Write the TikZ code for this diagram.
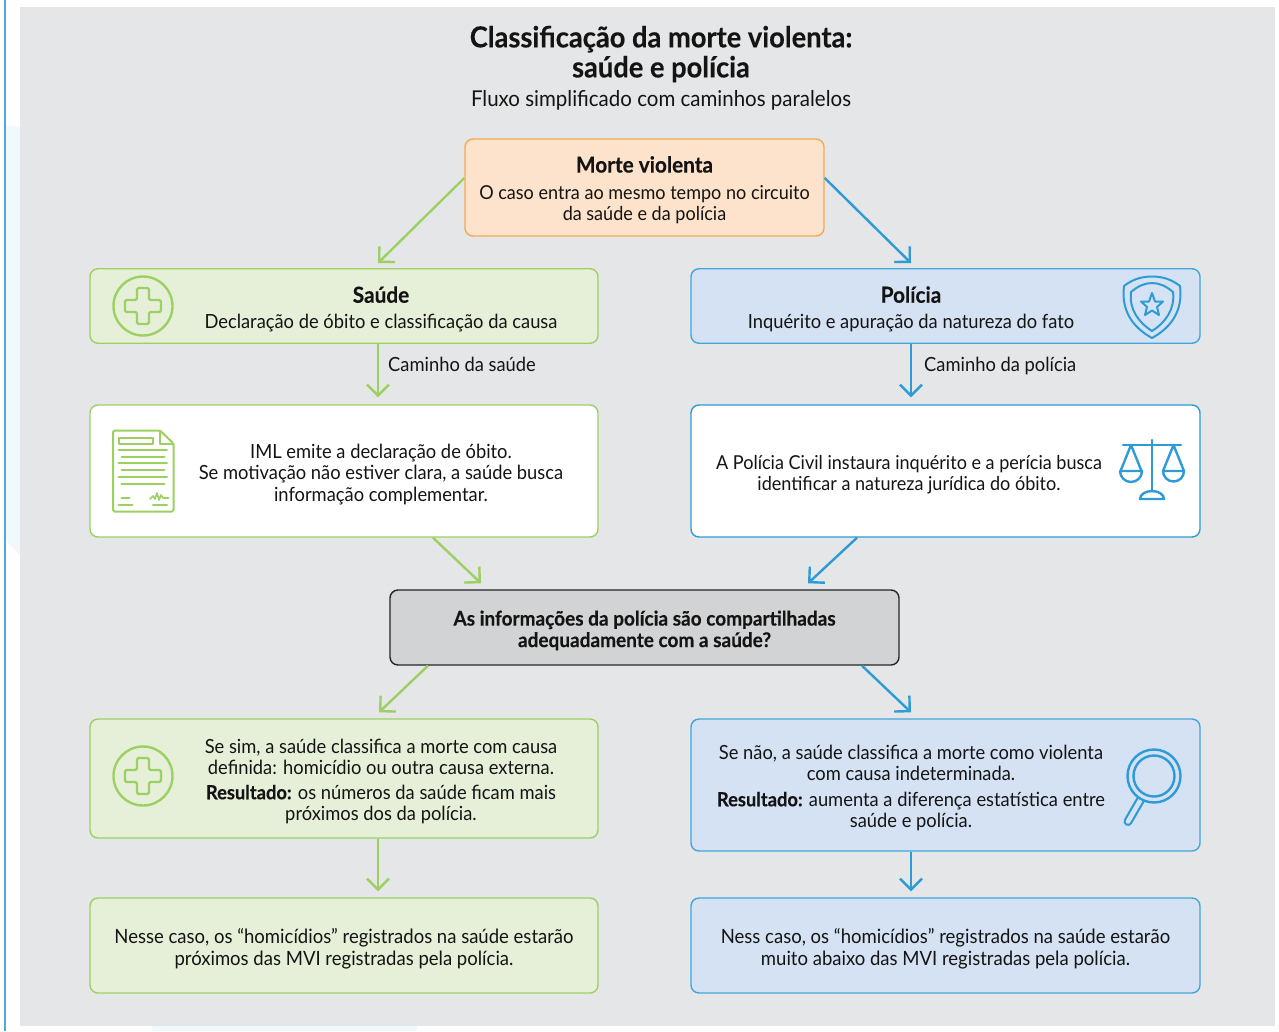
\documentclass[tikz,border=0pt]{standalone}
\usepackage{fontspec}
\setmainfont{Lato}[FakeStretch=0.94, BoldFeatures={FakeBold=0.25}]
\usepackage{xcolor}
\usetikzlibrary{arrows.meta, calc}
\definecolor{panelgray}{HTML}{E5E6E8}
\definecolor{paletint}{HTML}{F2F9FC}
\definecolor{saudeline}{HTML}{9DD063}
\definecolor{saudefill}{HTML}{E6F0D9}
\definecolor{policialine}{HTML}{2E9BD6}
\definecolor{policiafill}{HTML}{D5E2F3}
\definecolor{morteline}{HTML}{F5A952}
\definecolor{mortefill}{HTML}{FDE3CB}
\definecolor{questionfill}{HTML}{D2D3D5}
\newcommand{\bodyfont}{\fontsize{19.5}{21.5}\selectfont}
\newcommand{\smallbody}{\fontsize{19.2}{21.5}\selectfont}
\newcommand{\widebody}{\fontsize{19.7}{21.5}\selectfont}
\newcommand{\headfont}{\bfseries\fontsize{22.1}{24}\selectfont}
\tikzset{
	flowbox/.style={draw, rounded corners=8, line width=1.4, inner sep=0, align=center},
	saudebox/.style={flowbox, draw=saudeline, fill=saudefill},
	policiabox/.style={flowbox, draw=policialine!90, fill=policiafill},
	txt/.style={inner sep=0, align=center, text=black!92, font=\bodyfont},
	flowarrow/.style={line width=2.4, -{Straight Barb[length=11, width=22, line width=2.4]}},
	saudearrow/.style={flowarrow, saudeline},
	policiaarrow/.style={flowarrow, policialine},
	iconline/.style={line width=2.4, line cap=round, line join=round}
}
\providecommand{\PlusIcon}[2]{
	\begin{scope}[shift={(#1,#2)}, iconline, saudeline]
		\draw (0,0) circle (29.5);
		\draw[rounded corners=1.5] (-6,-18) -- (6,-18) -- (6,-6) -- (18,-6) -- (18,6) -- (6,6) -- (6,18) -- (-6,18) -- (-6,6) -- (-18,6) -- (-18,-6) -- (-6,-6) -- cycle;
	\end{scope}
}
\begin{document}
\begin{tikzpicture}[x=1pt, y=-1pt]

	\fill[white] (0,0) rectangle (1279,1031);
	\fill[paletint] (6,125) -- (20,127) -- (20,556) -- (6,540) -- cycle;
	\fill[paletint] (152,1026) rectangle (417,1031);
	\fill[panelgray] (20,7) rectangle (1275,1026);
	\fill[policialine!85] (4,0) rectangle (6,1031);

	% title
	\node[txt, font=\bfseries\fontsize{29}{30}\selectfont] (title) at (661,54) {Classificação da morte violenta:\\saúde e polícia};
	\node[txt, font=\fontsize{21.8}{24}\selectfont] (subtitle) at (661,100) {Fluxo simplificado com caminhos paralelos};

	% boxes
	\node[flowbox, draw=morteline, fill=mortefill, minimum width=359, minimum height=97] (morte) at (644.5,187.5) {};
	\node[saudebox, minimum width=508, minimum height=74.5] (saude) at (344,306) {};
	\node[policiabox, minimum width=509, minimum height=74.5] (policia) at (945.5,306) {};
	\node[flowbox, draw=saudeline, fill=white, minimum width=508, minimum height=132] (iml) at (344,471) {};
	\node[flowbox, draw=policialine, fill=white, minimum width=509, minimum height=132] (civil) at (945.5,471) {};
	\node[flowbox, draw=black!85, fill=questionfill, minimum width=509, minimum height=75] (pergunta) at (644.5,627.5) {};
	\node[saudebox, minimum width=508, minimum height=119] (sim) at (344,778.5) {};
	\node[policiabox, minimum width=509, minimum height=132] (nao) at (945.5,785) {};
	\node[saudebox, minimum width=508, minimum height=95] (nesse) at (344,945.5) {};
	\node[policiabox, minimum width=509, minimum height=95] (ness) at (945.5,945.5) {};

	% texts
	\node[txt] (morteText) at (644.5,190) {{\headfont Morte violenta}\\[5]{\smallbody O caso entra ao mesmo tempo no circuito}\\{\smallbody da saúde e da polícia}};
	\node[txt] (saudeText) at (381,309) {{\headfont Saúde}\\[4]Declaração de óbito e classificação da causa};
	\node[txt] (policiaText) at (911,309) {{\headfont Polícia}\\[4]Inquérito e apuração da natureza do fato};
	\node[txt] (imlText) at (381,474.5) {IML emite a declaração de óbito.\\Se motivação não estiver clara, a saúde busca\\informação complementar.};
	\node[txt, font=\smallbody] (civilText) at (909,474.5) {A Polícia Civil instaura inquérito e a perícia busca\\identificar a natureza jurídica do óbito.};
	\node[txt, font=\bfseries\fontsize{20.2}{21.5}\selectfont] (perguntaText) at (644.5,630.5) {As informações da polícia são compartilhadas\\adequadamente com a saúde?};
	\node[txt] (simText) at (381,781.5) {Se sim, a saúde classifica a morte com causa\\definida: homicídio ou outra causa externa.\\[3]\textbf{Resultado:} os números da saúde ficam mais\\próximos dos da polícia.};
	\node[txt] (naoText) at (911,788) {Se não, a saúde classifica a morte como violenta\\com causa indeterminada.\\[4]\textbf{Resultado:} aumenta a diferença estatística entre\\saúde e polícia.};
	\node[txt, font=\widebody] (nesseText) at (344,949) {Nesse caso, os “homicídios” registrados na saúde estarão\\próximos das MVI registradas pela polícia.};
	\node[txt, font=\widebody] (nessText) at (945.5,949) {Ness caso, os “homicídios” registrados na saúde estarão\\muito abaixo das MVI registradas pela polícia.};
	\node[txt, anchor=base west] (caminhoSaude) at (388,371.5) {Caminho da saúde};
	\node[txt, anchor=base west] (caminhoPolicia) at (924,371.5) {Caminho da polícia};

	% arrows
	\draw[saudearrow] ([shift={(0,-9.5)}]morte.west) -- ([shift={(34,-5)}]saude.north);
	\draw[policiaarrow] ([shift={(0,-9.5)}]morte.east) -- ([shift={(-34.5,-5)}]policia.north);
	\draw[saudearrow] ([xshift=34pt]saude.south) -- ([shift={(34,-7)}]iml.north);
	\draw[policiaarrow] ([xshift=-34.5pt]policia.south) -- ([shift={(-34.5,-7)}]civil.north);
	\draw[saudearrow] ([xshift=89pt]iml.south) -- ([shift={(-163.5,-6)}]pergunta.north);
	\draw[policiaarrow] ([xshift=-88.5pt]civil.south) -- ([shift={(163.5,-6)}]pergunta.north);
	\draw[saudearrow] ([xshift=-216.5pt]pergunta.south) -- ([shift={(35,-6)}]sim.north);
	\draw[policiaarrow] ([xshift=217.5pt]pergunta.south) -- ([shift={(-34.5,-6)}]nao.north);
	\draw[saudearrow] ([xshift=34pt]sim.south) -- ([shift={(34,-6)}]nesse.north);
	\draw[policiaarrow] ([xshift=-34.5pt]nao.south) -- ([shift={(-34.5,-6)}]ness.north);

	% icons
	\PlusIcon{143}{306}
	\PlusIcon{143}{776}

	% document
	\begin{scope}[iconline, saudeline, line width=2]
		\draw[rounded corners=1.5] (160,430.5) -- (113,430.5) -- (113,511.5) -- (173.5,511.5) -- (173.5,443.5) -- cycle;
		\draw (160,430.5) -- (160,443.5) -- (173.5,443.5);
		\draw (118.5,437.5) rectangle (153,443.5);
		\foreach \ly in {450,463,477} {\draw (118.5,\ly) -- (167,\ly);}
		\foreach \ly in {457,470,484} {\draw (121.5,\ly) -- (164.5,\ly);}
		\draw (121.5,498) -- (129.5,498);
		\draw (118.5,505) -- (132.5,505);
		\draw (153,505) -- (167,505);
		\draw[line width=1.6] (150,499) -- (153,496) -- (155,499) -- (157,493) -- (159,500) -- (161,495) -- (163,498) -- (168.5,498);
	\end{scope}

	% shield
	\begin{scope}[iconline, policialine, line width=2]
		\draw (1152,338) .. controls (1132,327) and (1121,310) .. (1124,286) .. controls (1133,279) and (1142,276.5) .. (1152,276.5) .. controls (1162,276.5) and (1171,279) .. (1180,286) .. controls (1183,310) and (1172,327) .. (1152,338) -- cycle;
		\draw (1152,331) .. controls (1138,322) and (1129,309) .. (1131,292) .. controls (1138,286) and (1145,283) .. (1152,283) .. controls (1159,283) and (1166,286) .. (1173,292) .. controls (1175,309) and (1166,322) .. (1152,331) -- cycle;
		\draw (1152,293) -- (1155,301.5) -- (1163,301.5) -- (1157,307) -- (1159,315) -- (1152,310.5) -- (1145,315) -- (1147,307) -- (1141,301.5) -- (1149,301.5) -- cycle;
	\end{scope}

	% scales
	\begin{scope}[iconline, policialine, line width=2.4]
		\draw (1123,445) -- (1181,445);
		\draw (1152,440) -- (1152,491);
		\draw (1120.5,471) -- (1131,445) -- (1141.5,471);
		\draw (1163,471) -- (1173.5,445) -- (1184,471);
		\draw (1120,471) -- (1142,471) arc (0:180:11);
		\draw (1163,471) -- (1184,471) arc (0:180:10.5);
		\draw (1140,499) arc (180:360:12 and 8) -- cycle;
	\end{scope}

	% magnifier
	\begin{scope}[policialine]
		\draw[line width=9, line cap=round] (1141,799) -- (1128,821.5);
		\draw[line width=4.6, line cap=round, policiafill] (1141,799) -- (1128,821.5);
		\fill[policiafill] (1154,776) circle (26);
		\draw[line width=2.4] (1154,776) circle (20.5);
		\draw[line width=2.4] (1154,776) circle (26.5);
	\end{scope}

\end{tikzpicture}
\end{document}
